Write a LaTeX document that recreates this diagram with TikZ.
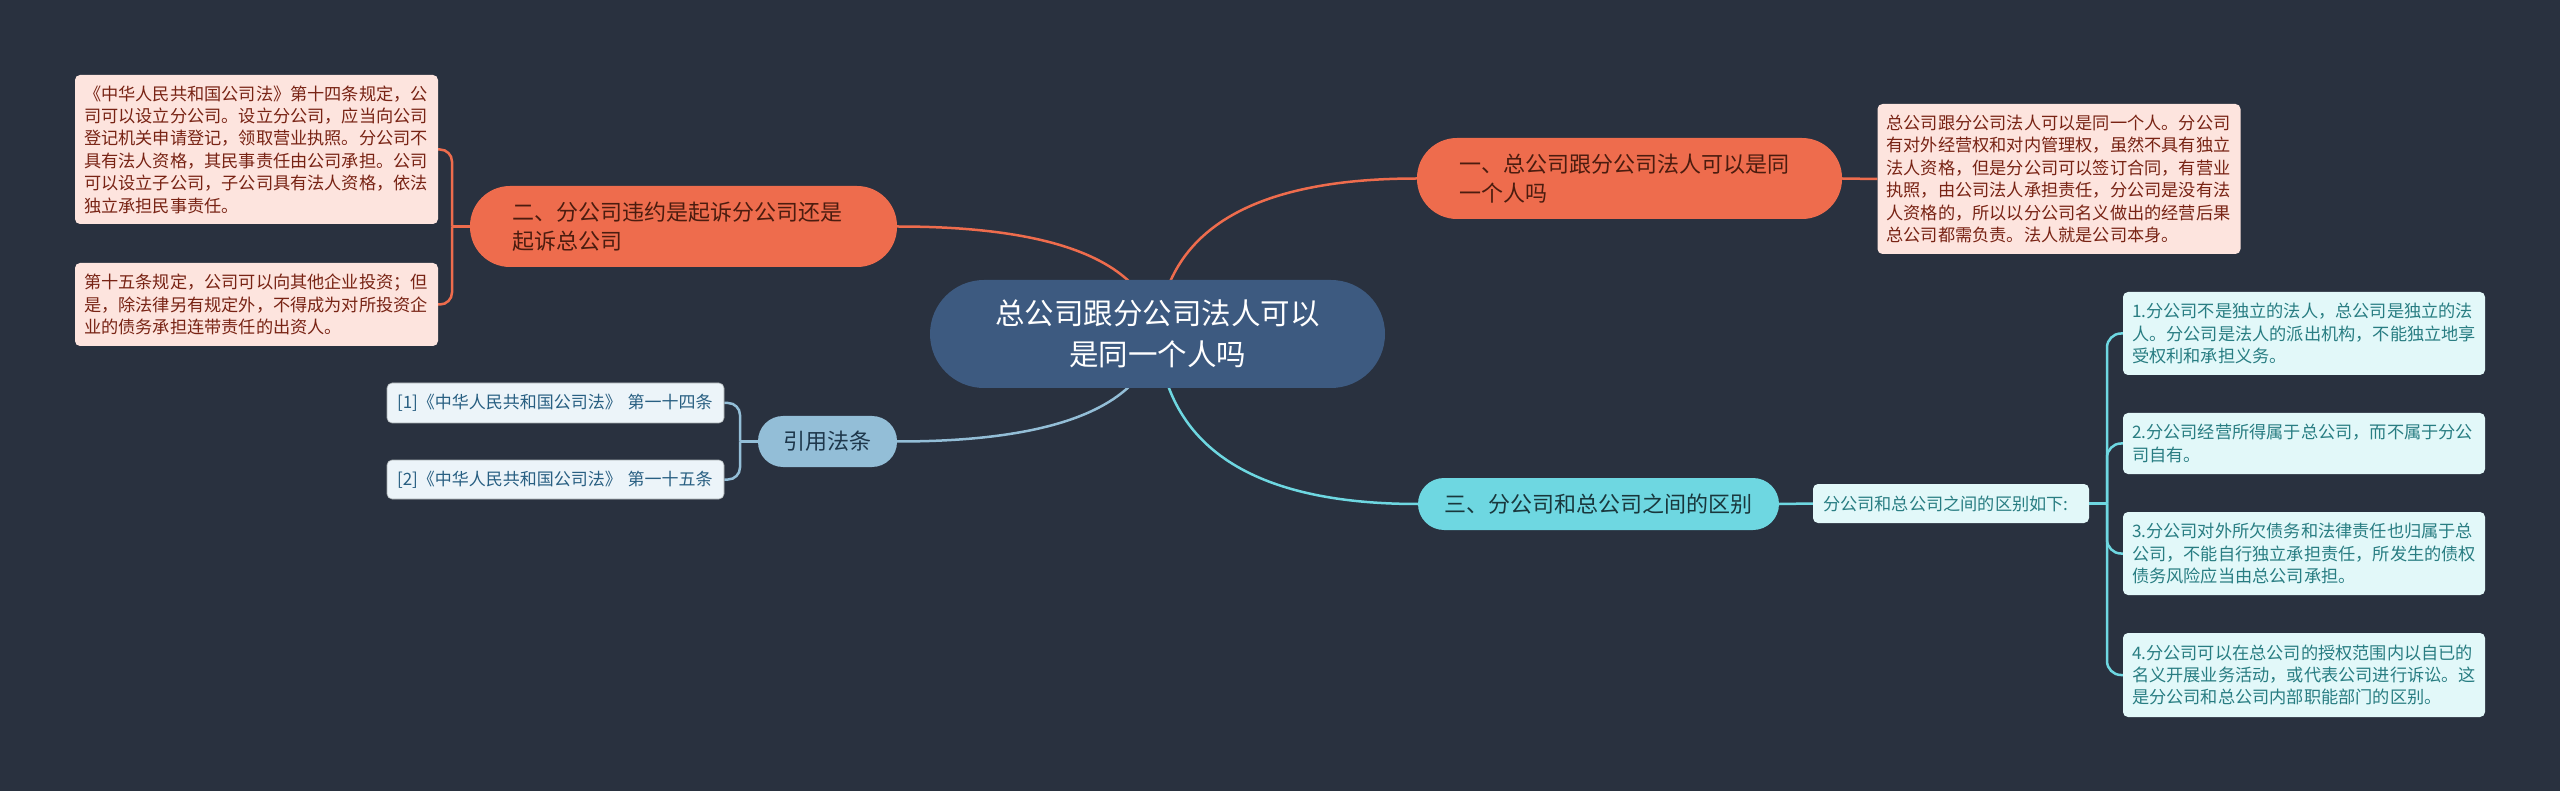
\documentclass[tikz,border=0pt]{standalone}
\usepackage{fontspec}
\setmainfont{Noto Sans CJK SC}
\usetikzlibrary{backgrounds}
\definecolor{bg}{RGB}{41,49,63}
\definecolor{cfill}{RGB}{61,90,128}
\definecolor{ofill}{RGB}{238,108,77}
\definecolor{otext}{RGB}{75,28,15}
\definecolor{pfill}{RGB}{253,228,222}
\definecolor{ptext}{RGB}{120,35,20}
\definecolor{bfill}{RGB}{147,190,215}
\definecolor{btext}{RGB}{30,55,75}
\definecolor{lbfill}{RGB}{236,244,249}
\definecolor{lbtext}{RGB}{40,95,130}
\definecolor{tfill}{RGB}{110,215,225}
\definecolor{ttext}{RGB}{25,55,60}
\definecolor{ltfill}{RGB}{226,248,249}
\definecolor{lttext}{RGB}{40,125,130}
\tikzset{
  centre/.style={fill=cfill, rounded corners=54pt, minimum width=455pt, minimum height=108pt,
    text=white, align=center, inner sep=0pt, font=\fontsize{29.5}{41}\selectfont},
  otopic/.style={fill=ofill, rounded corners=40pt, minimum height=81pt, text=otext, align=left,
    inner xsep=42pt, inner ysep=0pt, font=\fontsize{22}{29}\selectfont},
  pbox/.style={fill=pfill, rounded corners=5pt, text=ptext, align=left, inner xsep=9pt, inner ysep=0pt,
    text width=345pt, font=\fontsize{17.2}{22.4}\selectfont},
  btopic/.style={fill=bfill, rounded corners=25pt, minimum width=139pt, minimum height=51pt,
    text=btext, align=center, inner sep=0pt, font=\fontsize{22}{29}\selectfont},
  lbbox/.style={fill=lbfill, draw=lbfill!70!black, line width=0.6pt, rounded corners=5pt, text=lbtext, align=left,
    inner xsep=10pt, inner ysep=0pt, text width=317pt, font=\fontsize{17}{22}\selectfont},
  ttopic/.style={fill=tfill, rounded corners=26pt, minimum width=361pt, minimum height=52pt,
    text=ttext, align=center, inner sep=0pt, font=\fontsize{22}{29}\selectfont},
  ltbox/.style={fill=ltfill, rounded corners=5pt, text=lttext, align=left, inner xsep=9pt, inner ysep=0pt,
    text width=344pt, font=\fontsize{17.2}{22.4}\selectfont},
  oline/.style={draw=ofill, line width=2.5pt},
  bline/.style={draw=bfill, line width=2.5pt},
  tline/.style={draw=tfill, line width=2.5pt},
}
\begin{document}
\begin{tikzpicture}[x=1pt,y=-1pt]
\useasboundingbox (0,0) rectangle (2560,791);

% central
\node[centre] (c) at (1157.5,334) {总公司跟分公司法人可以\\是同一个人吗};

% branch 1
\node[otopic, text width=341pt] (n1) at (1629.5,178.5) {一、总公司跟分公司法人可以是同\\一个人吗};
\node[pbox, minimum height=150pt] (d1) at (2059,179) {总公司跟分公司法人可以是同一个人。分公司\\有对外经营权和对内管理权，虽然不具有独立\\法人资格，但是分公司可以签订合同，有营业\\执照，由公司法人承担责任，分公司是没有法\\人资格的，所以以分公司名义做出的经营后果\\总公司都需负责。法人就是公司本身。};

% branch 2
\node[otopic, text width=343pt] (n2) at (683.5,226.5) {二、分公司违约是起诉分公司还是\\起诉总公司};
\node[pbox, minimum height=149pt] (d2) at (256.5,149.5) {《中华人民共和国公司法》第十四条规定，公\\司可以设立分公司。设立分公司，应当向公司\\登记机关申请登记，领取营业执照。分公司不\\具有法人资格，其民事责任由公司承担。公司\\可以设立子公司，子公司具有法人资格，依法\\独立承担民事责任。};
\node[pbox, minimum height=83pt] (d3) at (256.5,304.5) {第十五条规定，公司可以向其他企业投资；但\\是，除法律另有规定外，不得成为对所投资企\\业的债务承担连带责任的出资人。};

% citations
\node[btopic] (q) at (827.5,441.5) {引用法条};
\node[lbbox, minimum height=40pt] (r1) at (555.5,403) {[1]《中华人民共和国公司法》 第一十四条};
\node[lbbox, minimum height=39pt] (r2) at (555.5,479.5) {[2]《中华人民共和国公司法》 第一十五条};

% branch 3
\node[ttopic] (n3) at (1598.5,504) {三、分公司和总公司之间的区别};
\node[ltbox, text width=256pt, minimum height=39pt, inner xsep=10pt] (s) at (1951,503.5) {分公司和总公司之间的区别如下:};
\node[ltbox, minimum height=83pt] (i1) at (2304,333.5) {1.分公司不是独立的法人，总公司是独立的法\\人。分公司是法人的派出机构，不能独立地享\\受权利和承担义务。};
\node[ltbox, minimum height=61pt] (i2) at (2304,443.5) {2.分公司经营所得属于总公司，而不属于分公\\司自有。};
\node[ltbox, minimum height=83pt] (i3) at (2304,553.5) {3.分公司对外所欠债务和法律责任也归属于总\\公司，不能自行独立承担责任，所发生的债权\\债务风险应当由总公司承担。};
\node[ltbox, minimum height=84pt] (i4) at (2304,675) {4.分公司可以在总公司的授权范围内以自已的\\名义开展业务活动，或代表公司进行诉讼。这\\是分公司和总公司内部职能部门的区别。};

\coordinate (j2) at (452,226.5);
\coordinate (jq) at (740,441.5);
\coordinate (j3) at (2107,503.5);

\begin{pgfonlayer}{background}
\fill[bg] (0,0) rectangle (2560,791);
\draw[oline] (c.center) .. controls (1165.7,230) and (1252.3,178.5) .. (n1.west);
\draw[oline] (c.center) .. controls (1145.7,262.3) and (1059,226.5) .. (n2.east);
\draw[bline] (c.center) .. controls (1145.7,405.7) and (1059,441.5) .. (q.east);
\draw[tline] (c.center) .. controls (1165.7,447.3) and (1252.7,504) .. (n3.west);
\draw[oline] (n1.east) -- (d1.west);
\draw[oline] (n2.west) -- (j2);
\draw[oline, rounded corners=12pt] (j2) |- (d2.east);
\draw[oline, rounded corners=12pt] (j2) |- (d3.east);
\draw[bline] (q.west) -- (jq);
\draw[bline, rounded corners=12pt] (jq) |- (r1.east);
\draw[bline, rounded corners=12pt] (jq) |- (r2.east);
\draw[tline] (n3.east) -- (s.west);
\draw[tline] (s.east) -- (j3);
\draw[tline, rounded corners=14pt] (j3) |- (i1.west);
\draw[tline, rounded corners=14pt] (j3) |- (i2.west);
\draw[tline, rounded corners=14pt] (j3) |- (i3.west);
\draw[tline, rounded corners=14pt] (j3) |- (i4.west);
\end{pgfonlayer}
\end{tikzpicture}
\end{document}
